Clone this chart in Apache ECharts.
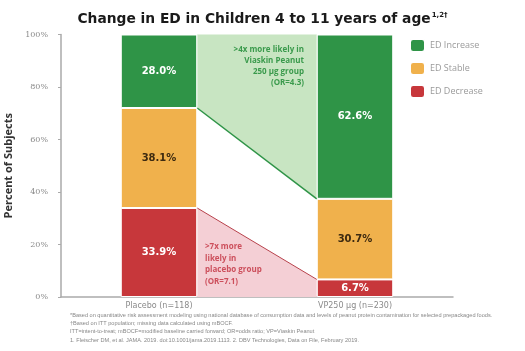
<!DOCTYPE html>
<html><head><meta charset="utf-8">
<script src="https://cdn.jsdelivr.net/npm/echarts@6/dist/echarts.min.js"></script>
<style>html,body{margin:0;padding:0;background:#fff}#c{width:525px;height:351px}</style>
</head><body><div id="c"></div>
<script>
const categories = ['Placebo (n=118)', 'VP250 µg (n=230)'];
const edDecrease = [33.9, 6.7];
const edStable = [38.1, 30.7];
const edIncrease = [28.0, 62.6];
const yTicks = [0, 20, 40, 60, 80, 100];
const footnotes = [
  '*Based on quantitative risk assessment modeling using national database of consumption data and levels of peanut protein contamination for selected prepackaged foods.',
  '\u2020Based on ITT population; missing data calculated using mBOCF.',
  'ITT=intent-to-treat; mBOCF=modified baseline carried forward; OR=odds ratio; VP=Viaskin Peanut',
  '1. Fleischer DM, et al. JAMA. 2019. doi:10.1001/jama.2019.1113. 2. DBV Technologies, Data on File, February 2019.'
];

const GREEN = '#2f9447', ORANGE = '#f0b14c', RED = '#c7373b';
const BARW = 0.39;
const chart = echarts.init(document.getElementById('c'));

function edgeX(api, idx, side) {
  const c = api.coord([idx, 0]);
  const w = api.size([1, 0])[0] * BARW / 2;
  return c[0] + side * w;
}

const bandSeries = {
  type: 'custom',
  silent: true,
  z: 1,
  data: [0],
  renderItem: function (params, api) {
    const x0 = edgeX(api, 0, 1), x1 = edgeX(api, 1, -1);
    const y = v => api.coord([0, v])[1];
    const gTop0 = y(100), gBot0 = y(edDecrease[0] + edStable[0]);
    const gBot1 = y(edDecrease[1] + edStable[1]);
    const rTop0 = y(edDecrease[0]), rTop1 = y(edDecrease[1]), base = y(0);
    return {
      type: 'group',
      children: [
        { type: 'polygon', shape: { points: [[x0, gTop0], [x1, gTop0], [x1, gBot1], [x0, gBot0]] }, style: { fill: '#c8e5c2' } },
        { type: 'line', shape: { x1: x0, y1: gBot0, x2: x1, y2: gBot1 }, style: { stroke: '#2f9447', lineWidth: 1.5 } },
        { type: 'polygon', shape: { points: [[x0, rTop0], [x1, rTop1], [x1, base], [x0, base]] }, style: { fill: '#f4cfd5' } },
        { type: 'line', shape: { x1: x0, y1: rTop0, x2: x1, y2: rTop1 }, style: { stroke: '#b8424c', lineWidth: 1 } }
      ]
    };
  }
};

function barSeries(name, data, color, labelColor) {
  return {
    name: name, type: 'bar', stack: 'a', data: data, barWidth: (BARW * 100) + '%',
    z: 3,
    itemStyle: { color: color, borderColor: '#fff', borderWidth: 1 },
    label: { show: true, position: 'inside', formatter: p => p.value.toFixed(1) + '%', color: labelColor, fontSize: 10, fontWeight: 'bold', fontFamily: 'DejaVu Sans' }
  };
}

const option = {
  animation: false,
  backgroundColor: '#fff',
  title: {
    text: '{t|Change in ED in Children 4 to 11 years of age}{s|1,2\u2020}',
    left: 'center', top: 7,
    textStyle: { rich: {
      t: { fontSize: 13.8, fontWeight: 'bold', color: '#1a1a1a', fontFamily: 'DejaVu Sans' },
      s: { fontSize: 7, fontWeight: 'bold', color: '#1a1a1a', verticalAlign: 'top', padding: [0, 0, 8, 1], fontFamily: 'DejaVu Sans' }
    } }
  },
  legend: {
    orient: 'vertical', left: 404, top: 33, itemWidth: 15, itemHeight: 13, itemGap: 8,
    data: ['ED Increase', 'ED Stable', 'ED Decrease'],
    textStyle: { color: '#9a9a9a', fontSize: 9, fontFamily: 'Open Sans' },
    selectedMode: false
  },
  grid: { left: 61, right: 72, top: 34.5, bottom: 54, containLabel: false, outerBoundsMode: 'none' },
  xAxis: {
    type: 'category', data: categories,
    axisLine: { lineStyle: { color: '#aaaaaa', width: 1.5 } },
    axisTick: { show: false },
    axisLabel: { color: '#8a8a8a', fontSize: 8, margin: 5, fontFamily: 'DejaVu Sans' }
  },
  yAxis: {
    type: 'value', min: 0, max: 100, interval: 20,
    name: 'Percent of Subjects', nameLocation: 'middle', nameGap: 26,
    nameTextStyle: { fontSize: 11, fontWeight: 'bold', color: '#333', fontFamily: 'Open Sans' },
    axisLine: { show: true, lineStyle: { color: '#aaaaaa', width: 1.5 } },
    axisTick: { show: true, length: 3, lineStyle: { color: '#aaaaaa' } },
    splitLine: { show: false },
    axisLabel: { color: '#8a8a8a', fontSize: 8, margin: 13, fontFamily: 'DejaVu Serif', formatter: v => yTicks.includes(v) ? v + '%' : '' }
  },
  series: [
    bandSeries,
    barSeries('ED Decrease', edDecrease, RED, '#fff'),
    barSeries('ED Stable', edStable, ORANGE, '#3d2a10'),
    barSeries('ED Increase', edIncrease, GREEN, '#fff')
  ],
  graphic: [
    { type: 'text', z: 100, x: 304, y: 44, style: { text: '>4x more likely in\nViaskin Peanut\n250 µg group\n(OR=4.3)', fill: '#3a9a4c', fontSize: 8, lineHeight: 11, align: 'right', fontFamily: 'Open Sans', fontWeight: 'bold' } },
    { type: 'text', z: 100, x: 205, y: 241, style: { text: '>7x more\nlikely in\nplacebo group\n(OR=7.1)', fill: '#cc4f5c', fontSize: 8, lineHeight: 11.5, fontFamily: 'Open Sans', fontWeight: 'bold' } },
    { type: 'text', z: 100, x: 70, y: 311, style: { text: footnotes.join('\n'), fill: '#888', fontSize: 5.6, lineHeight: 8.3, fontFamily: 'Liberation Sans' } }
  ]
};
chart.setOption(option);
</script></body></html>
